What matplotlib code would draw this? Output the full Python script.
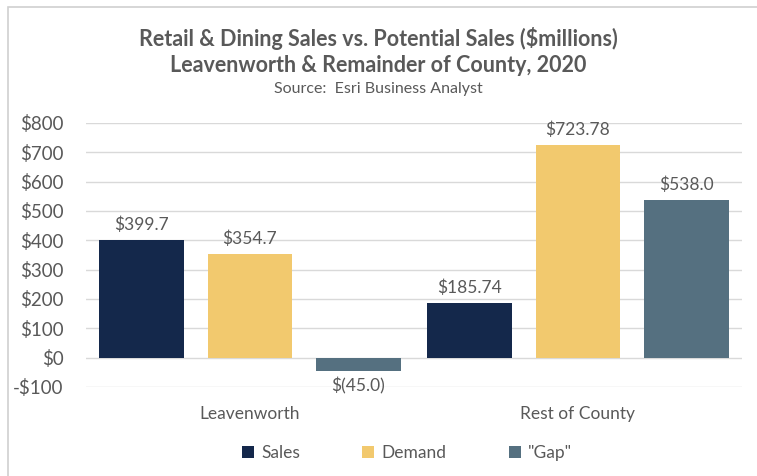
import matplotlib.pyplot as plt
import numpy as np
from matplotlib.patches import Rectangle

categories = ["Leavenworth", "Rest of County"]
series = ["Sales", "Demand", '"Gap"']
sales = [399.7, 185.74]
demand = [354.7, 723.78]
gap = [-45.0, 538.0]
sales_labels = ["$399.7", "$185.74"]
demand_labels = ["$354.7", "$723.78"]
gap_labels = ["$(45.0)", "$538.0"]
yticks = [-100, 0, 100, 200, 300, 400, 500, 600, 700, 800]
ytick_labels = ["-$100", "$0", "$100", "$200", "$300", "$400", "$500", "$600", "$700", "$800"]

colors = ["#14284b", "#f2c96e", "#557080"]
text_color = "#595959"

plt.rcParams["font.family"] = ["Lato", "DejaVu Sans"]

fig = plt.figure(figsize=(7.57, 4.76), dpi=100)
ax = fig.add_axes([86 / 757, 89 / 476, 656 / 757, 264 / 476])

# outer frame
fig.patches.append(Rectangle((8 / 757, -0.1), 1.2, (476 - 7) / 476 + 0.1,
                             transform=fig.transFigure, fill=False,
                             edgecolor="#d0d0d0", linewidth=1.2))

x = np.arange(len(categories))
width = 0.259
step = 0.33
for k, (vals, labs) in enumerate(zip([sales, demand, gap],
                                     [sales_labels, demand_labels, gap_labels])):
    pos = x + (k - 1) * step
    bars = ax.bar(pos, vals, width, color=colors[k], label=series[k], zorder=3)
    for b, v, lab in zip(bars, vals, labs):
        if v >= 0:
            ax.annotate(lab, (b.get_x() + b.get_width() / 2, v), xytext=(0, 5),
                        textcoords="offset points", ha="center", va="bottom",
                        fontsize=12.5, color=text_color)
        else:
            ax.annotate(lab, (b.get_x() + b.get_width() / 2, v), xytext=(0, -5),
                        textcoords="offset points", ha="center", va="top",
                        fontsize=12.5, color=text_color)

ax.set_xlim(-0.5, 1.5)
ax.set_ylim(-100, 800)
ax.set_yticks(yticks)
ax.set_yticklabels(ytick_labels)
ax.set_xticks(x)
ax.set_xticklabels(categories)
ax.tick_params(axis="y", length=0, labelsize=13.5, labelcolor=text_color, pad=16)
ax.tick_params(axis="x", length=0, labelsize=12.5, labelcolor=text_color, pad=14)
for s in ax.spines.values():
    s.set_visible(False)
ax.grid(axis="y", color="#d9d9d9", linewidth=1, zorder=0)

fig.text(0.5, 1 - 39 / 476, "Retail & Dining Sales vs. Potential Sales ($millions)",
         ha="center", va="center", fontsize=15.5, fontweight="bold", color=text_color)
fig.text(0.5, 1 - 65 / 476, "Leavenworth & Remainder of County, 2020",
         ha="center", va="center", fontsize=15.5, fontweight="bold", color=text_color)
fig.text(0.5, 1 - 89 / 476, "Source:  Esri Business Analyst",
         ha="center", va="center", fontsize=11.5, color=text_color)

leg = fig.legend(loc="center", bbox_to_anchor=(407 / 757, 1 - 453 / 476), ncol=3,
                 frameon=False, fontsize=12.5, handlelength=0.7, handleheight=0.7,
                 handletextpad=0.4, columnspacing=3.6)
for t in leg.get_texts():
    t.set_color(text_color)

fig.savefig("out.png", dpi=100)
